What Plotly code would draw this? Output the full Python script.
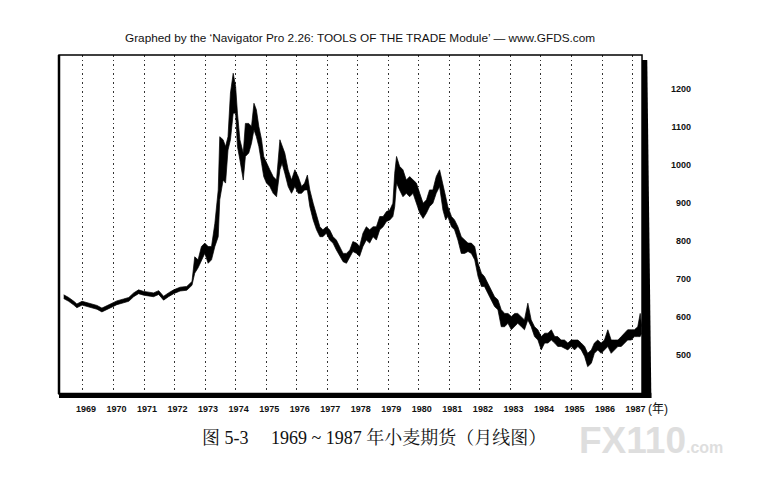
import plotly.graph_objects as go

# Wheat futures, monthly range (year as decimal, price high / low)
years = [
    1968.37, 1968.53, 1968.70, 1968.80, 1968.97, 1969.13, 1969.29, 1969.46, 1969.62, 1969.79,
    1969.95, 1970.11, 1970.33, 1970.50, 1970.66, 1970.82, 1970.99, 1971.15, 1971.31, 1971.48,
    1971.64, 1971.80, 1971.97, 1972.18, 1972.40, 1972.57,
    1972.66, 1972.77, 1972.88, 1972.99, 1973.10, 1973.21, 1973.32, 1973.43, 1973.48, 1973.59,
    1973.67, 1973.75, 1973.83, 1973.92, 1974.00, 1974.06, 1974.14, 1974.25, 1974.32, 1974.43,
    1974.52, 1974.60, 1974.68, 1974.76, 1974.85, 1974.92, 1975.01, 1975.12, 1975.23, 1975.34,
    1975.45, 1975.52, 1975.61, 1975.72, 1975.83,
    1975.94, 1976.05, 1976.16, 1976.26, 1976.35, 1976.43, 1976.54, 1976.65, 1976.76, 1976.86,
    1976.97, 1977.08, 1977.19, 1977.30, 1977.41, 1977.52, 1977.63, 1977.74, 1977.84, 1977.96,
    1978.06, 1978.17, 1978.28, 1978.39, 1978.50, 1978.61, 1978.72, 1978.83, 1978.94, 1979.05,
    1979.15, 1979.21, 1979.27, 1979.37, 1979.48, 1979.59, 1979.70, 1979.81, 1979.92, 1980.03,
    1980.14, 1980.25, 1980.35, 1980.46, 1980.57, 1980.68,
    1980.79, 1980.88, 1980.95, 1981.07, 1981.17, 1981.28, 1981.39, 1981.50, 1981.61, 1981.72,
    1981.83, 1981.94, 1982.05, 1982.15, 1982.26, 1982.37, 1982.48, 1982.59, 1982.70, 1982.81,
    1982.92, 1983.03, 1983.14, 1983.24, 1983.36, 1983.46, 1983.57, 1983.68, 1983.79, 1983.90,
    1984.01, 1984.12, 1984.23, 1984.34, 1984.45, 1984.55, 1984.66, 1984.77, 1984.88, 1984.99,
    1985.10, 1985.21, 1985.32, 1985.43, 1985.53, 1985.65, 1985.75, 1985.86, 1985.97, 1986.08,
    1986.19, 1986.30, 1986.41, 1986.52, 1986.63, 1986.74, 1986.84, 1986.96, 1987.06, 1987.17,
    1987.25, 1987.30,
]

price_high = [
    659, 652, 642, 635, 642, 639, 635, 631, 624, 631,
    637, 643, 648, 652, 664, 672, 668, 665, 664, 670,
    655, 664, 672, 679, 681, 694,
    759, 751, 786, 795, 786, 786, 847, 935, 1075, 1067,
    1049, 1075, 1190, 1242, 1207, 1137, 1067, 1032, 1110, 1110,
    1102, 1163, 1146, 1102, 1067, 1023, 1005, 988, 970, 961,
    1067, 1049, 1032, 988, 961,
    988, 970, 944, 953, 974, 935, 900, 865, 838, 830,
    838, 830, 812, 803, 786, 768, 768, 777, 799, 795,
    786, 821, 838, 830, 838, 838, 865, 865, 878, 882,
    900, 979, 1023, 997, 988, 961, 970, 961, 953, 926,
    900, 909, 935, 935, 970, 988,
    953, 917, 891, 865, 856, 838, 812, 803, 795, 795,
    786, 742, 716, 707, 690, 672, 654, 646, 620, 610,
    610, 602, 610, 610, 602, 593, 637, 593, 575, 567,
    549, 558, 558, 567, 549, 549, 540, 540, 532, 540,
    540, 540, 532, 523, 505, 514, 532, 540, 532, 540,
    567, 540, 540, 540, 549, 558, 567, 567, 567, 575,
    610, 575,
]

price_low = [
    649, 642, 632, 625, 632, 629, 625, 621, 614, 621,
    627, 633, 638, 642, 654, 662, 658, 655, 654, 660,
    645, 654, 662, 669, 671, 684,
    716, 730, 751, 768, 742, 751, 786, 812, 909, 961,
    953, 1040, 1067, 1137, 1137, 1049, 1014, 961, 1023, 1032,
    1058, 1093, 1075, 1049, 1005, 970, 953, 944, 926, 917,
    988, 1005, 979, 944, 926,
    944, 926, 926, 935, 935, 891, 856, 830, 812, 812,
    821, 803, 795, 777, 760, 746, 742, 760, 773, 768,
    760, 786, 803, 795, 812, 803, 830, 838, 852, 856,
    865, 891, 953, 935, 917, 926, 917, 926, 900, 874,
    860, 874, 891, 900, 926, 944,
    882, 856, 865, 838, 830, 803, 768, 768, 773, 768,
    751, 707, 681, 681, 663, 646, 628, 620, 575, 575,
    584, 567, 575, 584, 575, 567, 593, 575, 549, 540,
    514, 532, 532, 540, 532, 523, 523, 518, 514, 523,
    514, 523, 514, 497, 470, 479, 505, 514, 505, 514,
    523, 505, 514, 523, 523, 532, 540, 540, 549, 549,
    549, 558,
]

year_ticks = list(range(1969, 1988))
year_labels = [str(y) for y in year_ticks]
price_ticks = [500, 600, 700, 800, 900, 1000, 1100, 1200]

title_text = "Graphed by the \u2018Navigator Pro 2.26: TOOLS OF THE TRADE Module\u2019 \u2014 www.GFDS.com"
caption_text = "图 5-3\u00a0\u00a0\u00a0\u00a0 1969 ~ 1987 年小麦期货（月线图）"

fig = go.Figure()

fig.add_trace(go.Scatter(
    x=years, y=price_low, mode="lines",
    line=dict(color="black", width=0.7),
    hoverinfo="skip",
))
fig.add_trace(go.Scatter(
    x=years, y=price_high, mode="lines",
    line=dict(color="black", width=0.7),
    fill="tonexty", fillcolor="black",
))

# frame with the heavy "shadow" on the right and bottom
fig.add_shape(type="rect", xref="x domain", yref="y domain", x0=0, x1=1, y0=0, y1=1,
              line=dict(color="black", width=1.5))
fig.add_shape(type="line", xref="x domain", yref="y domain", x0=0, x1=0, y0=0, y1=1,
              line=dict(color="black", width=2.5))
fig.add_shape(type="path", xref="x domain", yref="y domain",
              path="M 1,0.985 L 1.009,0.985 L 1.016,-0.012 L 1,-0.012 Z",
              fillcolor="black", line=dict(width=0))
fig.add_shape(type="rect", xref="x domain", yref="y domain", x0=0, x1=1.016, y0=-0.012, y1=0.004,
              fillcolor="black", line=dict(width=0))

fig.add_annotation(text=title_text, xref="paper", yref="paper", x=0.476, y=1.05,
                   xanchor="center", yanchor="middle", showarrow=False,
                   font=dict(family="Liberation Sans, Arial", size=11.8, color="#111"))
fig.add_annotation(text="(年)", xref="paper", yref="paper", x=0.948, y=-0.044,
                   xanchor="center", yanchor="middle", showarrow=False,
                   font=dict(family="Liberation Sans, Noto Sans CJK SC", size=12, color="#111"))
fig.add_annotation(text=caption_text, xref="paper", yref="paper", x=0.498, y=-0.127,
                   xanchor="center", yanchor="middle", showarrow=False,
                   font=dict(family="Liberation Serif, Noto Serif CJK SC, Noto Sans CJK SC, serif",
                             size=18, color="#111"))
fig.add_annotation(text="FX110<span style='font-size:16px'>.com</span>", xref="paper", yref="paper",
                   x=0.820, y=-0.136, xanchor="left", yanchor="middle", showarrow=False,
                   font=dict(family="Liberation Sans Narrow, Liberation Sans", size=37,
                             color="#dedede", weight="bold"))

fig.update_layout(
    width=750, height=488,
    margin=dict(l=51, r=67, t=47, b=102),
    paper_bgcolor="white", plot_bgcolor="white",
    showlegend=False,
    xaxis=dict(
        range=[1968.215, 1987.31], domain=[0, 0.9225],
        tickvals=year_ticks, ticktext=year_labels,
        showgrid=True, gridcolor="#333", gridwidth=1, griddash="1.5px,3px",
        zeroline=False, showline=False, ticks="",
        tickfont=dict(family="Liberation Sans, Arial", size=9, color="#111", weight="bold"),
        ticklabelshift=3, ticklabelstandoff=8,
    ),
    yaxis=dict(
        range=[398, 1290], anchor="free", position=1, side="left",
        tickvals=price_ticks, showgrid=False, zeroline=False, showline=False, ticks="",
        tickfont=dict(family="Liberation Sans, Arial", size=9, color="#111", weight="bold"),
        ticklabelstandoff=0,
    ),
)

fig.write_html("out.html")
